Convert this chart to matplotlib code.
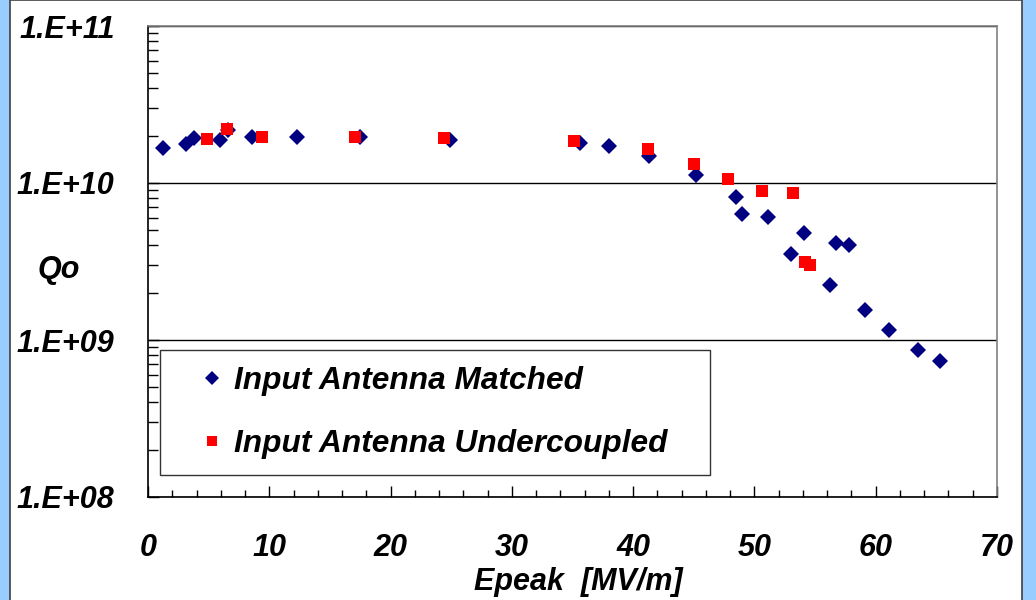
import matplotlib
matplotlib.use("Agg")
import matplotlib.pyplot as plt
from matplotlib.patches import Rectangle
from matplotlib.ticker import FixedLocator, FuncFormatter, MultipleLocator, NullFormatter
import numpy as np

# Input antenna matched (blue diamonds)
matched_epeak = [1.2, 3.1, 3.8, 5.9, 6.6, 8.6, 12.3, 17.5, 24.9, 35.6, 38.0, 41.3,
                 45.2, 48.5, 49.0, 51.1, 53.0, 54.1, 56.7, 57.8, 56.2, 59.1,
                 61.1, 63.5, 65.3]
matched_qo = [1.66e10, 1.76e10, 1.94e10, 1.87e10, 2.18e10, 1.96e10, 1.95e10, 1.95e10,
              1.88e10, 1.79e10, 1.72e10, 1.49e10, 1.12e10, 8.1e9, 6.37e9, 6.1e9,
              3.51e9, 4.78e9, 4.13e9, 4.05e9, 2.25e9, 1.55e9, 1.15e9, 8.63e8, 7.31e8]

# Input antenna undercoupled (red squares)
under_epeak = [4.9, 6.5, 9.4, 17.1, 24.4, 35.1, 41.2, 45.0, 47.8, 50.6, 53.2, 54.2, 54.6]
under_qo = [1.90e10, 2.20e10, 1.97e10, 1.97e10, 1.94e10, 1.86e10, 1.64e10, 1.32e10,
            1.06e10, 8.93e9, 8.6e9, 3.14e9, 3.02e9]

labels = ["Input Antenna Matched", "Input Antenna Undercoupled"]
y_ticks = [1e8, 1e9, 1e10, 1e11]

font = {"family": "Liberation Sans", "weight": "bold", "style": "italic"}
plt.rcParams["font.family"] = ["Liberation Sans", "DejaVu Sans"]

fig = plt.figure(figsize=(10.36, 6.0), dpi=100, facecolor="#99ccff")
# white chart panel behind the axes
fig.patches.append(Rectangle((9.5 / 1036, -0.01), (1022 - 9.5) / 1036, 1.0092,
                             transform=fig.transFigure, facecolor="white",
                             edgecolor="#404040", lw=1.2, zorder=-10))

ax = fig.add_axes([148 / 1036, 1 - 497 / 600, 849 / 1036, 471 / 600])
ax.set_facecolor("white")

ax.plot(matched_epeak, matched_qo, linestyle="none", marker="D", ms=7.8,
        color="#000080", mew=0, label=labels[0], zorder=3)
ax.plot(under_epeak, under_qo, linestyle="none", marker="s", ms=8.2,
        color="#ff0000", mew=0, label=labels[1], zorder=4)

ax.set_yscale("log")
ax.set_xlim(0, 70)
ax.set_ylim(1e8, 1e11)

ax.xaxis.set_major_locator(MultipleLocator(10))
ax.xaxis.set_minor_locator(MultipleLocator(2))
ax.yaxis.set_major_locator(FixedLocator(y_ticks))
ax.yaxis.set_minor_locator(FixedLocator([m * 10.0 ** e for e in range(8, 11) for m in range(2, 10)]))
ax.yaxis.set_minor_formatter(NullFormatter())
ax.yaxis.set_major_formatter(FuncFormatter(lambda v, p: "1.E+%02d" % int(round(np.log10(v)))))

ax.tick_params(axis="both", which="both", direction="in", color="black", width=1)
ax.tick_params(axis="x", which="major", length=8, pad=26, labelsize=22)
ax.tick_params(axis="x", which="minor", length=5)
ax.tick_params(axis="y", which="major", length=8, pad=24, labelsize=22)
ax.tick_params(axis="y", which="minor", length=7)
for lab in ax.get_xticklabels() + ax.get_yticklabels():
    lab.set_fontweight("bold")
    lab.set_fontstyle("italic")

ax.set_axisbelow(True)
ax.yaxis.grid(True, which="major", color="black", lw=1)

for s in ["left", "bottom"]:
    ax.spines[s].set_color("black")
    ax.spines[s].set_linewidth(1.2)
for s in ["top", "right"]:
    ax.spines[s].set_color("#808080")
    ax.spines[s].set_linewidth(1.2)

ax.set_xlabel("Epeak  [MV/m]", fontsize=22, **font)
ax.xaxis.set_label_coords(0.5065, -0.18)
ax.xaxis.label.set_va("center")
ax.set_ylabel("Qo", fontsize=22, rotation=0, **font)
ax.yaxis.set_label_coords(-0.105, 0.482)
ax.yaxis.label.set_va("center")
ax.yaxis.label.set_ha("center")

leg = ax.legend(loc="lower left", bbox_to_anchor=(0.0141, 0.0467, 0.648, 0.268),
                mode="expand", frameon=True, fancybox=False, borderpad=0.5,
                labelspacing=1.05, handlelength=2.3, handletextpad=-0.45,
                markerscale=0.9, borderaxespad=0,
                prop={"family": "Liberation Sans", "weight": "bold",
                      "style": "italic", "size": 22.8})
leg.get_frame().set_edgecolor("black")
leg.get_frame().set_linewidth(1.0)

fig.savefig("out.png", dpi=100, facecolor=fig.get_facecolor())
